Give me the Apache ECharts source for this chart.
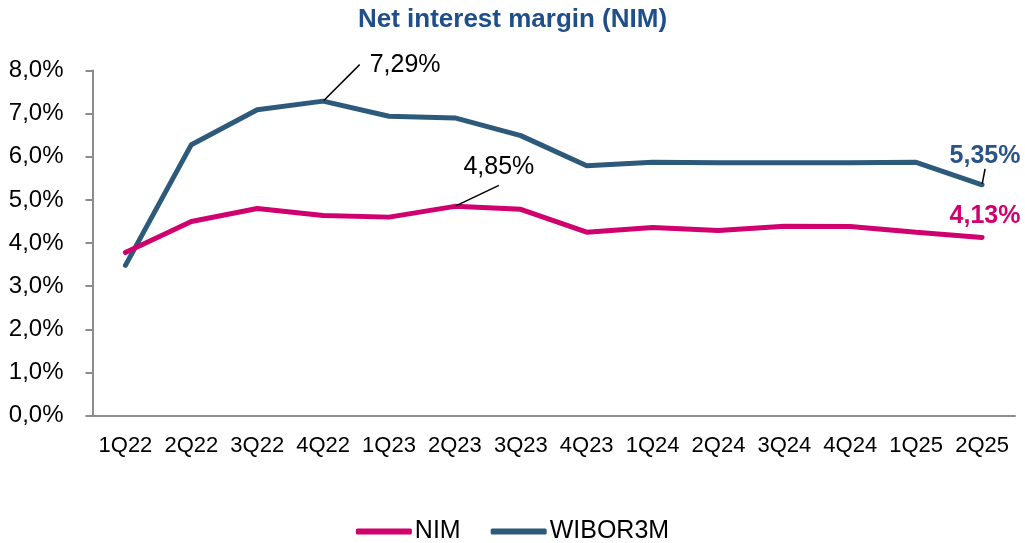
<!DOCTYPE html>
<html>
<head>
<meta charset="utf-8">
<style>
  html, body { margin: 0; padding: 0; background: #fff; }
  #chart { width: 1025px; height: 543px; }
</style>
<script src="https://cdn.jsdelivr.net/npm/echarts@6/dist/echarts.min.js"></script>
</head>
<body>
<div id="chart"></div>
<script>
const quarters = ['1Q22', '2Q22', '3Q22', '4Q22', '1Q23', '2Q23', '3Q23', '4Q23', '1Q24', '2Q24', '3Q24', '4Q24', '1Q25', '2Q25'];
const nimValues = [3.78, 4.50, 4.80, 4.64, 4.60, 4.85, 4.78, 4.25, 4.36, 4.29, 4.39, 4.38, 4.25, 4.13];
const wiborValues = [3.48, 6.28, 7.09, 7.29, 6.94, 6.90, 6.49, 5.79, 5.87, 5.86, 5.86, 5.86, 5.87, 5.35];

const nimColor = '#d0006f';
const wiborColor = '#2d5a7b';
const font = '"Liberation Sans", Arial, sans-serif';

const fmt = v => v.toFixed(2).replace('.', ',') + '%';

// which points carry a value label, how it is shifted and padded
// (padding steers where the leader line meets the label)
const nimLabels = {
  5: { dx: 44, dy: -10, line: true, padding: [30, 0, 6, 0] },
  13: { dx: 3, dy: 2, bold: true, color: nimColor },
};
const wiborLabels = {
  3: { dx: 77, dy: -13, line: true, padding: [0, 0, 0, 10] },
  13: { dx: 3, dy: -5, bold: true, color: '#2a5388', line: true },
};

function buildData(values, labels) {
  return values.map((v, i) => {
    const l = labels[i];
    if (!l) return v;
    return {
      value: v,
      label: {
        show: true,
        position: 'top',
        distance: 10,
        formatter: p => fmt(p.value),
        fontFamily: font,
        fontSize: 25,
        fontWeight: l.bold ? 'bold' : 'normal',
        color: l.color || '#000',
        padding: l.padding || 0,
        backgroundColor: 'rgba(255,255,255,0)',
      },
      labelLine: { show: !!l.line },
    };
  });
}

function layoutFor(labels) {
  return params => {
    const l = labels[params.dataIndex];
    return l ? { dx: l.dx, dy: l.dy } : {};
  };
}

const chart = echarts.init(document.getElementById('chart'));
chart.setOption({
  animation: false,
  title: {
    text: 'Net interest margin (NIM)',
    left: 'center',
    top: 2,
    textStyle: { fontFamily: font, fontSize: 26, fontWeight: 'bold', color: '#1f4e89' },
  },
  legend: {
    top: 514,
    left: 'center',
    icon: 'roundRect',
    itemWidth: 56,
    itemHeight: 6,
    itemGap: 30,
    textStyle: { fontFamily: font, fontSize: 25, color: '#000', padding: [0, 0, 0, -2] },
    data: ['NIM', 'WIBOR3M'],
  },
  grid: { left: 92.5, right: 10, top: 70.5, bottom: 127.5, containLabel: false },
  xAxis: {
    type: 'category',
    data: quarters,
    boundaryGap: true,
    axisLine: { lineStyle: { color: '#8c8c8c', width: 2 } },
    axisTick: { length: 7, lineStyle: { color: '#8c8c8c', width: 2 } },
    axisLabel: { fontFamily: font, fontSize: 22, color: '#000', margin: 19, interval: 0 },
  },
  yAxis: {
    type: 'value',
    min: 0,
    max: 8,
    interval: 1,
    splitLine: { show: false },
    axisLine: { show: true, lineStyle: { color: '#8c8c8c', width: 2 } },
    axisTick: { show: true, length: 7, lineStyle: { color: '#8c8c8c', width: 2 } },
    axisLabel: {
      fontFamily: font, fontSize: 24, color: '#000', margin: 29,
      padding: [8, 0, 0, 0],
      formatter: v => v.toFixed(1).replace('.', ',') + '%',
    },
  },
  series: [
    {
      name: 'NIM',
      type: 'line',
      data: buildData(nimValues, nimLabels),
      color: nimColor,
      symbol: 'circle',
      symbolSize: 2,
      lineStyle: { width: 5, color: nimColor, cap: 'round' },
      labelLine: { lineStyle: { color: '#000', width: 1.5 } },
      labelLayout: layoutFor(nimLabels),
      z: 3,
    },
    {
      name: 'WIBOR3M',
      type: 'line',
      data: buildData(wiborValues, wiborLabels),
      color: wiborColor,
      symbol: 'circle',
      symbolSize: 2,
      lineStyle: { width: 5, color: wiborColor, cap: 'round' },
      labelLine: { lineStyle: { color: '#000', width: 1.5 } },
      labelLayout: layoutFor(wiborLabels),
      z: 2,
    },
  ],
});
</script>
</body>
</html>
